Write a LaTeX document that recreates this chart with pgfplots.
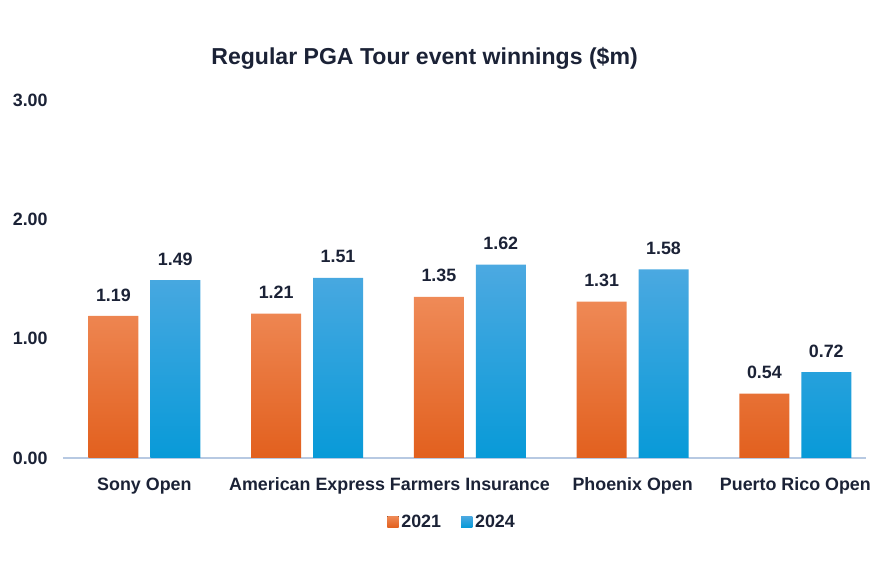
\documentclass[border=0pt]{standalone}
\usepackage{fontspec}
\setmainfont{Liberation Sans}
\usepackage{pgfplots}
\pgfplotsset{compat=1.18}
\definecolor{txt}{HTML}{1B2236}
\definecolor{orTop}{HTML}{EF8A57}
\definecolor{orBot}{HTML}{E2601E}
\definecolor{blTop}{HTML}{4CA9E1}
\definecolor{blBot}{HTML}{089AD8}
\definecolor{axl}{HTML}{B7C9E2}
\begin{document}
\begin{tikzpicture}
\path[use as bounding box] (0pt,0pt) rectangle (657pt,-438pt);
\begin{axis}[
  at={(47.25pt,-343.5pt)}, anchor=south west,
  scale only axis, width=602.25pt, height=268.5pt,
  xmin=-0.5, xmax=4.434, ymin=0, ymax=3,
  axis x line*=bottom, axis y line*=left,
  x axis line style={draw=axl, line width=0.8pt, -},
  y axis line style={draw=none},
  xtick=data, xticklabels={Sony Open, American Express, Farmers Insurance, Phoenix Open, Puerto Rico Open},
  xtick style={draw=none}, ytick style={draw=none},
  ytick={0,1,2,3},
  yticklabel={\pgfmathprintnumber[fixed,fixed zerofill,precision=2]{\tick}},
  /pgf/number format/assume math mode=true,
  ticklabel style={font=\bfseries\fontsize{13.4}{15}\selectfont, text=txt},
  yticklabel style={xshift=-8pt},
  xticklabel style={anchor=north, text height=9.6pt, text depth=2.8pt, yshift=-7pt},
  ybar, bar width=0.307,
  nodes near coords={\pgfmathprintnumber[fixed,fixed zerofill,precision=2,assume math mode=true]{\pgfplotspointmeta}},
  nodes near coords style={font=\bfseries\fontsize{13.4}{15}\selectfont, text=txt, yshift=7.5pt},
  legend style={at={(0.485,-0.179)}, anchor=center, draw=none, legend columns=2,
    font=\bfseries\fontsize{13.4}{15}\selectfont, text=txt,
    /tikz/every even column/.append style={column sep=13pt}},
  legend image code/.code={\fill[#1] (0pt,-4pt) rectangle (8.5pt,4.5pt);},
]
\addplot[draw=none, bar shift=-0.19, top color=orTop, bottom color=orBot] coordinates {(0,1.19) (1,1.21) (2,1.35) (3,1.31) (4,0.54)};
\addplot[draw=none, bar shift=0.19, top color=blTop, bottom color=blBot] coordinates {(0,1.49) (1,1.51) (2,1.62) (3,1.58) (4,0.72)};
\legend{2021,2024}
\end{axis}
\node[font=\bfseries\fontsize{17.3}{20}\selectfont, text=txt] at (318.4pt,-43.5pt) {Regular PGA Tour event winnings (\$m)};
\end{tikzpicture}
\end{document}
